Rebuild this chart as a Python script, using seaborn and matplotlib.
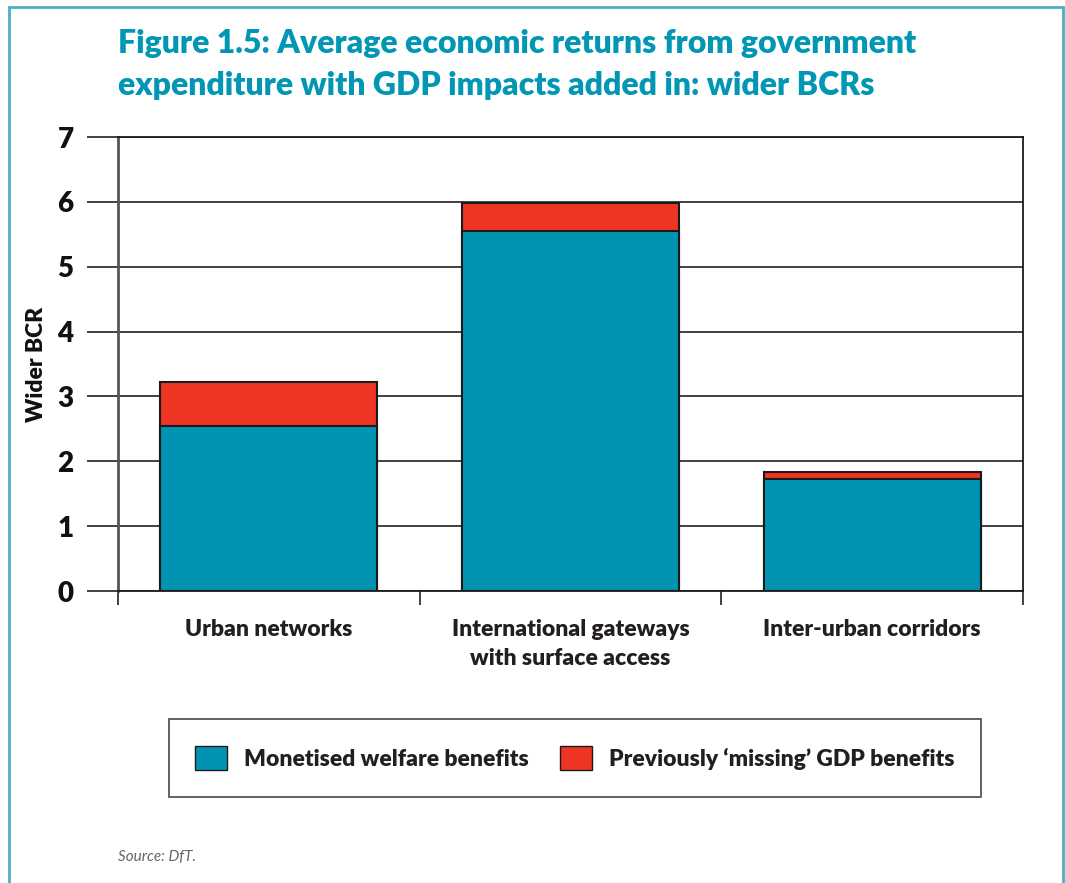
import numpy as np
import pandas as pd
import matplotlib
matplotlib.use("Agg")
import matplotlib.pyplot as plt
import seaborn as sns
from matplotlib.patches import Patch, Rectangle

categories = ["Urban networks", "International gateways\nwith surface access", "Inter-urban corridors"]
welfare = [2.54, 5.55, 1.72]
gdp_missing = [0.69, 0.43, 0.12]
y_ticks = [0, 1, 2, 3, 4, 5, 6, 7]

BLUE = "#0093B2"
RED = "#EE3524"
TEAL = "#0096B4"
INK = "#231f20"

sns.set_style("white")
plt.rcParams["font.family"] = ["Lato", "DejaVu Sans"]

df = pd.DataFrame({"category": categories, "welfare": welfare, "gdp": gdp_missing})
df["total"] = df["welfare"] + df["gdp"]

fig = plt.figure(figsize=(10.65, 8.83), dpi=100)
ax = fig.add_axes([118 / 1065, 1 - 591 / 883, 905 / 1065, 454 / 883])

for y in y_ticks:
    ax.axhline(y, color="#333333", lw=1.3, zorder=0)

sns.barplot(data=df, x="category", y="total", color=RED, edgecolor="#1a1a1a",
            linewidth=1.5, width=0.72, saturation=1, ax=ax, zorder=2)
sns.barplot(data=df, x="category", y="welfare", color=BLUE, edgecolor="#1a1a1a",
            linewidth=1.5, width=0.72, saturation=1, ax=ax, zorder=3)

ax.set_xlim(-0.5, 2.5)
ax.set_ylim(0, 7)
ax.set_yticks(y_ticks)
ax.set_yticklabels([str(v) for v in y_ticks], fontsize=20, fontweight="heavy", color="#111111")
ax.tick_params(axis="y", length=22, width=1.3, color="#333333", pad=10, left=True)
ax.set_xticks([-0.5, 0.5, 1.5, 2.5], minor=False)
ax.set_xticklabels([])
ax.set_xticks([0, 1, 2], minor=True)
ax.set_xticklabels(categories, minor=True, fontsize=16.5, fontweight="heavy", color=INK, linespacing=1.5)
ax.tick_params(axis="x", which="major", length=10, width=1.3, color="#333333", bottom=True)
ax.tick_params(axis="x", which="minor", length=0, pad=20)
ax.set_xlabel("")
ax.set_ylabel("Wider BCR", fontsize=16.5, fontweight="heavy", color="#111111")
ax.yaxis.set_label_coords(-0.078, 0.5)

for s in ["top", "right", "bottom"]:
    ax.spines[s].set_color("#1a1a1a")
    ax.spines[s].set_linewidth(1.3)
ax.spines["left"].set_color("#555555")
ax.spines["left"].set_linewidth(2)

fig.text(118 / 1065, 1 - 29 / 883, "Figure 1.5: Average economic returns from government\nexpenditure with GDP impacts added in: wider BCRs",
         fontsize=23, fontweight="heavy", color=TEAL, va="top", ha="left", linespacing=1.55)

handles = [Patch(facecolor=BLUE, edgecolor="#1a1a1a", label="Monetised welfare benefits"),
           Patch(facecolor=RED, edgecolor="#1a1a1a", label="Previously \u2018missing\u2019 GDP benefits")]
leg = fig.legend(handles=handles, loc="center", bbox_to_anchor=(575 / 1065, 1 - 758 / 883), ncol=2,
                 frameon=True, fancybox=False, edgecolor="#1a1a1a",
                 handlelength=1.4, handleheight=1.3, handletextpad=0.75, columnspacing=1.35,
                 borderpad=1.15, borderaxespad=0, prop={"weight": "heavy", "size": 16.5})
leg.get_frame().set_linewidth(1.2)
for t in leg.get_texts():
    t.set_color(INK)

fig.text(118 / 1065, 1 - 857 / 883, "Source: DfT.", fontsize=11, style="italic", color="#666666", va="center")

fig.patches.append(Rectangle((9 / 1065, -0.01), 1054 / 1065, 1 - 7 / 883 + 0.01, transform=fig.transFigure,
                             fill=False, edgecolor="#4BAFC8", linewidth=2))

fig.savefig("out.png", dpi=100)
